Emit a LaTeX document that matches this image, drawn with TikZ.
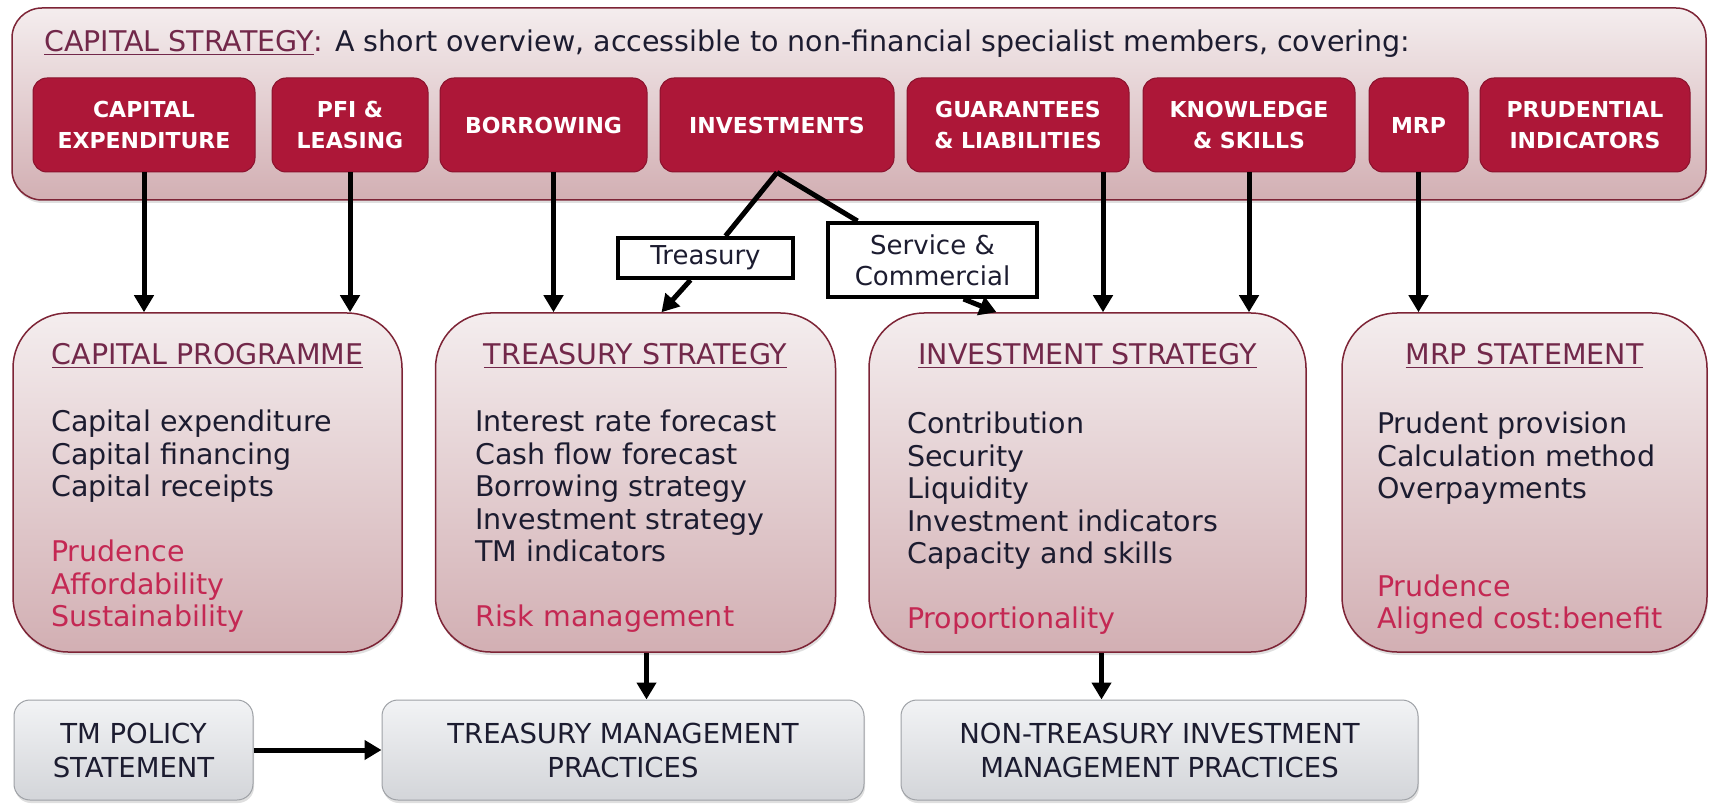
\documentclass[tikz,border=0pt]{standalone}
\usepackage{fontspec}
\setmainfont{DejaVu Sans}
\usepackage{tikz}
\usetikzlibrary{arrows.meta,shadows}

\definecolor{boxred}{HTML}{AD1738}
\definecolor{edgered}{HTML}{7D2436}
\definecolor{pinktop}{HTML}{F4EDEE}
\definecolor{pinkbot}{HTML}{D2AFB3}
\definecolor{greytop}{HTML}{F2F3F5}
\definecolor{greybot}{HTML}{D3D5D9}
\definecolor{greyedge}{HTML}{9EA1A6}
\definecolor{inkdark}{HTML}{1C1C30}
\definecolor{headred}{HTML}{72284A}
\definecolor{accent}{HTML}{C42853}

\begin{document}
\begin{tikzpicture}[x=1pt, y=-1pt,
  frame/.style={draw=edgered, line width=1.5pt, rounded corners=30pt, top color=pinktop, bottom color=pinkbot, inner sep=0pt, drop shadow={shadow xshift=1pt, shadow yshift=-3pt, opacity=0.25}},
  topic/.style={draw=boxred!80!black, line width=1pt, fill=boxred, rounded corners=14pt, inner sep=0pt, minimum height=94pt, text=white, align=center, font=\bfseries\fontsize{22}{31}\selectfont},
  panel/.style={frame, rounded corners=55pt, minimum height=339pt},
  heading/.style={text=headred, inner sep=0pt, anchor=base, font=\fontsize{28.5}{32.5}\selectfont},
  listing/.style={text=inkdark, inner sep=0pt, anchor=north west, align=left, font=\fontsize{28.5}{32.5}\selectfont},
  practice/.style={draw=greyedge, line width=1pt, rounded corners=16pt, top color=greytop, bottom color=greybot, inner sep=0pt, minimum height=100pt, text=inkdark, align=center, font=\fontsize{27.5}{34}\selectfont, drop shadow={shadow xshift=1pt, shadow yshift=-3pt, opacity=0.25}},
  tag/.style={draw=black, line width=4pt, fill=white, inner sep=0pt, text=inkdark, align=center, font=\fontsize{26}{31}\selectfont},
  link/.style={line width=5pt},
  flow/.style={link, -{Triangle[length=17pt,width=19pt]}}]

\path[use as bounding box, fill=white] (0,0) rectangle (1709,810);

\node[frame, minimum width=1694pt, minimum height=192pt] (strategy) at (859,104) {};
\node[anchor=base west, inner sep=0pt, text=inkdark, font=\fontsize{28.5}{32}\selectfont] (title) at (44,52)
  {{\color{headred}\underline{CAPITAL STRATEGY}:} A short overview, accessible to non-financial specialist members, covering:};

\node[topic, minimum width=222pt] (capexp) at (144,125) {CAPITAL\\EXPENDITURE};
\node[topic, minimum width=156pt] (pfi) at (350,125) {PFI \&\\LEASING};
\node[topic, minimum width=207pt] (borrow) at (543.5,125) {BORROWING};
\node[topic, minimum width=234pt] (invest) at (777,125) {INVESTMENTS};
\node[topic, minimum width=222pt] (guarant) at (1018,125) {GUARANTEES\\\& LIABILITIES};
\node[topic, minimum width=212pt] (knowl) at (1249,125) {KNOWLEDGE\\\& SKILLS};
\node[topic, minimum width=99pt] (mrp) at (1418.5,125) {MRP};
\node[topic, minimum width=210pt] (prud) at (1585,125) {PRUDENTIAL\\INDICATORS};

\node[panel, minimum width=389pt] (cprog) at (207.5,482.5) {};
\node[panel, minimum width=400pt] (tstrat) at (635.5,482.5) {};
\node[panel, minimum width=437pt] (istrat) at (1087.5,482.5) {};
\node[panel, minimum width=365pt] (mrpst) at (1524.5,482.5) {};

\node[heading] (cproghead) at (207.5,365) {\underline{CAPITAL PROGRAMME}};
\node[heading] (tstrathead) at (635.5,365) {\underline{TREASURY STRATEGY}};
\node[heading] (istrathead) at (1087.5,365) {\underline{INVESTMENT STRATEGY}};
\node[heading] (mrpsthead) at (1524.5,365) {\underline{MRP STATEMENT}};

\node[listing] (cproglist) at (51,410) {Capital expenditure\\Capital financing\\Capital receipts\\[32.5pt]
  \textcolor{accent}{Prudence}\\\textcolor{accent}{Affordability}\\\textcolor{accent}{Sustainability}};
\node[listing] (tstratlist) at (475,410) {Interest rate forecast\\Cash flow forecast\\Borrowing strategy\\Investment strategy\\TM indicators\\[32.5pt]
  \textcolor{accent}{Risk management}};
\node[listing] (istratlist) at (907,412) {Contribution\\Security\\Liquidity\\Investment indicators\\Capacity and skills\\[32.5pt]
  \textcolor{accent}{Proportionality}};
\node[listing] (mrpstlist) at (1377,412) {Prudent provision\\Calculation method\\Overpayments\\[65pt]
  \textcolor{accent}{Prudence}\\\textcolor{accent}{Aligned cost:benefit}};

\node[practice, minimum width=239pt] (tmpol) at (133.5,750) {TM POLICY\\STATEMENT};
\node[practice, minimum width=482pt] (tmprac) at (623,750) {TREASURY MANAGEMENT\\PRACTICES};
\node[practice, minimum width=517pt] (nontr) at (1159.5,750) {NON-TREASURY INVESTMENT\\MANAGEMENT PRACTICES};

\node[tag, minimum width=175pt, minimum height=40pt] (trlabel) at (705.5,258) {Treasury};
\node[tag, minimum width=209pt, minimum height=74pt] (svlabel) at (932.5,260) {Service \&\\Commercial};

\draw[flow] (capexp.south) -- (capexp.south |- cprog.north);
\draw[flow] (pfi.south) -- (pfi.south |- cprog.north);
\draw[flow] ([xshift=10pt]borrow.south) -- ([xshift=10pt]borrow.south |- tstrat.north);
\draw[flow] ([xshift=85pt]guarant.south) -- ([xshift=85pt]guarant.south |- istrat.north);
\draw[flow] (knowl.south) -- (knowl.south |- istrat.north);
\draw[flow] (mrp.south) -- (mrp.south |- mrpst.north);

\draw[link] (invest.south) -- ([xshift=20pt]trlabel.north);
\draw[flow] ([xshift=-15pt]trlabel.south) -- ([xshift=26pt]tstrat.north);
\draw[link] (invest.south) -- ([xshift=-75pt]svlabel.north);
\draw[flow] ([xshift=31pt]svlabel.south) -- ([xshift=-91pt]istrat.north);

\draw[flow] ([xshift=11pt]tstrat.south) -- ([xshift=11pt]tstrat.south |- tmprac.north);
\draw[flow] ([xshift=14pt]istrat.south) -- ([xshift=14pt]istrat.south |- nontr.north);
\draw[flow] (tmpol) -- (tmprac);

\end{tikzpicture}
\end{document}
